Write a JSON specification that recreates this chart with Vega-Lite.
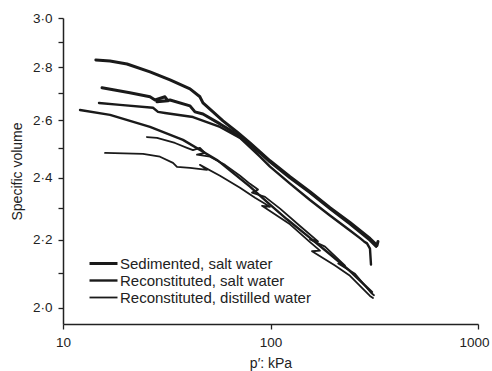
{
  "$schema": "https://vega.github.io/schema/vega-lite/v6.json",
  "width": 415,
  "height": 306,
  "autosize": {"type": "none"},
  "padding": {"left": 63, "top": 18, "right": 14, "bottom": 47},
  "background": "white",
  "config": {
    "view": {"stroke": null},
    "font": "Liberation Sans",
    "axis": {
      "grid": false,
      "domainColor": "#222",
      "domainWidth": 1.5,
      "tickColor": "#222",
      "tickWidth": 1.3,
      "tickSize": 5,
      "labelFont": "Liberation Sans",
      "labelFontSize": 13.5,
      "labelColor": "#222",
      "titleFont": "Liberation Sans",
      "titleFontSize": 14,
      "titleFontWeight": "normal",
      "titleColor": "#222"
    },
    "legend": {
      "labelFont": "Liberation Sans",
      "labelFontSize": 15,
      "labelColor": "#222"
    }
  },
  "data": {
    "values": [
      {"s": "Sedimented, salt water", "c": "A", "o": 1, "x": 14.4, "y": 2.829},
      {"s": "Sedimented, salt water", "c": "A", "o": 2, "x": 16.85, "y": 2.825},
      {"s": "Sedimented, salt water", "c": "A", "o": 3, "x": 20.35, "y": 2.813},
      {"s": "Sedimented, salt water", "c": "A", "o": 4, "x": 26.26, "y": 2.782},
      {"s": "Sedimented, salt water", "c": "A", "o": 5, "x": 32.8, "y": 2.751},
      {"s": "Sedimented, salt water", "c": "A", "o": 6, "x": 40.93, "y": 2.717},
      {"s": "Sedimented, salt water", "c": "A", "o": 7, "x": 45.7, "y": 2.687},
      {"s": "Sedimented, salt water", "c": "A", "o": 8, "x": 47.27, "y": 2.664},
      {"s": "Sedimented, salt water", "c": "A", "o": 9, "x": 52.84, "y": 2.631},
      {"s": "Sedimented, salt water", "c": "A", "o": 10, "x": 59.03, "y": 2.598},
      {"s": "Sedimented, salt water", "c": "A", "o": 11, "x": 68.94, "y": 2.558},
      {"s": "Sedimented, salt water", "c": "A", "o": 12, "x": 79.63, "y": 2.519},
      {"s": "Sedimented, salt water", "c": "A", "o": 13, "x": 89.0, "y": 2.488},
      {"s": "Sedimented, salt water", "c": "A", "o": 14, "x": 99.45, "y": 2.457},
      {"s": "Sedimented, salt water", "c": "A", "o": 15, "x": 124.2, "y": 2.403},
      {"s": "Sedimented, salt water", "c": "A", "o": 16, "x": 155.0, "y": 2.353},
      {"s": "Sedimented, salt water", "c": "A", "o": 17, "x": 193.5, "y": 2.301},
      {"s": "Sedimented, salt water", "c": "A", "o": 18, "x": 241.6, "y": 2.254},
      {"s": "Sedimented, salt water", "c": "A", "o": 19, "x": 301.6, "y": 2.204},
      {"s": "Sedimented, salt water", "c": "A", "o": 20, "x": 326.1, "y": 2.183},
      {"s": "Sedimented, salt water", "c": "A", "o": 21, "x": 329.7, "y": 2.195},

      {"s": "Sedimented, salt water", "c": "B", "o": 1, "x": 15.42, "y": 2.721},
      {"s": "Sedimented, salt water", "c": "B", "o": 2, "x": 21.0, "y": 2.702},
      {"s": "Sedimented, salt water", "c": "B", "o": 3, "x": 26.26, "y": 2.687},
      {"s": "Sedimented, salt water", "c": "B", "o": 4, "x": 27.76, "y": 2.675},
      {"s": "Sedimented, salt water", "c": "B", "o": 5, "x": 31.01, "y": 2.687},
      {"s": "Sedimented, salt water", "c": "B", "o": 6, "x": 32.06, "y": 2.672},
      {"s": "Sedimented, salt water", "c": "B", "o": 7, "x": 28.38, "y": 2.668},
      {"s": "Sedimented, salt water", "c": "B", "o": 8, "x": 32.8, "y": 2.675},
      {"s": "Sedimented, salt water", "c": "B", "o": 9, "x": 40.93, "y": 2.653},
      {"s": "Sedimented, salt water", "c": "B", "o": 10, "x": 43.26, "y": 2.631},
      {"s": "Sedimented, salt water", "c": "B", "o": 11, "x": 47.27, "y": 2.623},
      {"s": "Sedimented, salt water", "c": "B", "o": 12, "x": 57.1, "y": 2.587},
      {"s": "Sedimented, salt water", "c": "B", "o": 13, "x": 63.79, "y": 2.565},
      {"s": "Sedimented, salt water", "c": "B", "o": 14, "x": 75.38, "y": 2.527},
      {"s": "Sedimented, salt water", "c": "B", "o": 15, "x": 89.0, "y": 2.484},
      {"s": "Sedimented, salt water", "c": "B", "o": 16, "x": 99.45, "y": 2.453},
      {"s": "Sedimented, salt water", "c": "B", "o": 17, "x": 124.2, "y": 2.399},
      {"s": "Sedimented, salt water", "c": "B", "o": 18, "x": 155.0, "y": 2.35},
      {"s": "Sedimented, salt water", "c": "B", "o": 19, "x": 193.5, "y": 2.298},
      {"s": "Sedimented, salt water", "c": "B", "o": 20, "x": 241.6, "y": 2.25},
      {"s": "Sedimented, salt water", "c": "B", "o": 21, "x": 301.6, "y": 2.199},
      {"s": "Sedimented, salt water", "c": "B", "o": 22, "x": 322.5, "y": 2.18},

      {"s": "Reconstituted, salt water", "c": "C", "o": 1, "x": 14.91, "y": 2.664},
      {"s": "Reconstituted, salt water", "c": "C", "o": 2, "x": 18.83, "y": 2.657},
      {"s": "Reconstituted, salt water", "c": "C", "o": 3, "x": 27.15, "y": 2.646},
      {"s": "Reconstituted, salt water", "c": "C", "o": 4, "x": 28.7, "y": 2.631},
      {"s": "Reconstituted, salt water", "c": "C", "o": 5, "x": 31.01, "y": 2.627},
      {"s": "Reconstituted, salt water", "c": "C", "o": 6, "x": 42.31, "y": 2.612},
      {"s": "Reconstituted, salt water", "c": "C", "o": 7, "x": 57.1, "y": 2.576},
      {"s": "Reconstituted, salt water", "c": "C", "o": 8, "x": 71.3, "y": 2.537},
      {"s": "Reconstituted, salt water", "c": "C", "o": 9, "x": 89.0, "y": 2.471},
      {"s": "Reconstituted, salt water", "c": "C", "o": 10, "x": 99.45, "y": 2.437},
      {"s": "Reconstituted, salt water", "c": "C", "o": 11, "x": 124.2, "y": 2.38},
      {"s": "Reconstituted, salt water", "c": "C", "o": 12, "x": 155.0, "y": 2.326},
      {"s": "Reconstituted, salt water", "c": "C", "o": 13, "x": 193.5, "y": 2.276},
      {"s": "Reconstituted, salt water", "c": "C", "o": 14, "x": 241.6, "y": 2.229},
      {"s": "Reconstituted, salt water", "c": "C", "o": 15, "x": 270.0, "y": 2.205},
      {"s": "Reconstituted, salt water", "c": "C", "o": 16, "x": 282.2, "y": 2.195},
      {"s": "Reconstituted, salt water", "c": "C", "o": 17, "x": 291.8, "y": 2.189},
      {"s": "Reconstituted, salt water", "c": "C", "o": 18, "x": 301.6, "y": 2.173},
      {"s": "Reconstituted, salt water", "c": "C", "o": 19, "x": 305.0, "y": 2.125},

      {"s": "Reconstituted, salt water", "c": "D", "o": 1, "x": 12.08, "y": 2.638},
      {"s": "Reconstituted, salt water", "c": "D", "o": 2, "x": 16.85, "y": 2.62},
      {"s": "Reconstituted, salt water", "c": "D", "o": 3, "x": 26.26, "y": 2.576},
      {"s": "Reconstituted, salt water", "c": "D", "o": 4, "x": 37.86, "y": 2.53},
      {"s": "Reconstituted, salt water", "c": "D", "o": 5, "x": 55.24, "y": 2.46},
      {"s": "Reconstituted, salt water", "c": "D", "o": 6, "x": 65.96, "y": 2.416},
      {"s": "Reconstituted, salt water", "c": "D", "o": 7, "x": 79.63, "y": 2.37},
      {"s": "Reconstituted, salt water", "c": "D", "o": 8, "x": 99.45, "y": 2.311},
      {"s": "Reconstituted, salt water", "c": "D", "o": 9, "x": 120.1, "y": 2.264},
      {"s": "Reconstituted, salt water", "c": "D", "o": 10, "x": 155.0, "y": 2.206},
      {"s": "Reconstituted, salt water", "c": "D", "o": 11, "x": 193.5, "y": 2.156},
      {"s": "Reconstituted, salt water", "c": "D", "o": 12, "x": 241.6, "y": 2.106},
      {"s": "Reconstituted, salt water", "c": "D", "o": 13, "x": 308.4, "y": 2.045},

      {"s": "Reconstituted, distilled water", "c": "E", "o": 1, "x": 25.4, "y": 2.54},
      {"s": "Reconstituted, distilled water", "c": "E", "o": 2, "x": 28.38, "y": 2.537},
      {"s": "Reconstituted, distilled water", "c": "E", "o": 3, "x": 34.65, "y": 2.519},
      {"s": "Reconstituted, distilled water", "c": "E", "o": 4, "x": 39.59, "y": 2.502},
      {"s": "Reconstituted, distilled water", "c": "E", "o": 5, "x": 42.31, "y": 2.494},
      {"s": "Reconstituted, distilled water", "c": "E", "o": 6, "x": 45.7, "y": 2.502},
      {"s": "Reconstituted, distilled water", "c": "E", "o": 7, "x": 48.33, "y": 2.484},
      {"s": "Reconstituted, distilled water", "c": "E", "o": 8, "x": 44.23, "y": 2.478},
      {"s": "Reconstituted, distilled water", "c": "E", "o": 9, "x": 51.1, "y": 2.471},
      {"s": "Reconstituted, distilled water", "c": "E", "o": 10, "x": 60.35, "y": 2.443},
      {"s": "Reconstituted, distilled water", "c": "E", "o": 11, "x": 71.3, "y": 2.406},
      {"s": "Reconstituted, distilled water", "c": "E", "o": 12, "x": 79.63, "y": 2.379},
      {"s": "Reconstituted, distilled water", "c": "E", "o": 13, "x": 87.07, "y": 2.36},
      {"s": "Reconstituted, distilled water", "c": "E", "o": 14, "x": 81.44, "y": 2.35},
      {"s": "Reconstituted, distilled water", "c": "E", "o": 15, "x": 94.09, "y": 2.336},
      {"s": "Reconstituted, distilled water", "c": "E", "o": 16, "x": 111.2, "y": 2.298},
      {"s": "Reconstituted, distilled water", "c": "E", "o": 17, "x": 138.7, "y": 2.243},
      {"s": "Reconstituted, distilled water", "c": "E", "o": 18, "x": 169.4, "y": 2.195},
      {"s": "Reconstituted, distilled water", "c": "E", "o": 19, "x": 155.0, "y": 2.201},
      {"s": "Reconstituted, distilled water", "c": "E", "o": 20, "x": 183.1, "y": 2.179},
      {"s": "Reconstituted, distilled water", "c": "E", "o": 21, "x": 228.6, "y": 2.122},
      {"s": "Reconstituted, distilled water", "c": "E", "o": 22, "x": 212.0, "y": 2.128},
      {"s": "Reconstituted, distilled water", "c": "E", "o": 23, "x": 255.4, "y": 2.098},
      {"s": "Reconstituted, distilled water", "c": "E", "o": 24, "x": 305.0, "y": 2.043},
      {"s": "Reconstituted, distilled water", "c": "E", "o": 25, "x": 315.3, "y": 2.036},

      {"s": "Reconstituted, distilled water", "c": "F", "o": 1, "x": 15.94, "y": 2.484},
      {"s": "Reconstituted, distilled water", "c": "F", "o": 2, "x": 24.3, "y": 2.481},
      {"s": "Reconstituted, distilled water", "c": "F", "o": 3, "x": 29.34, "y": 2.471},
      {"s": "Reconstituted, distilled water", "c": "F", "o": 4, "x": 33.89, "y": 2.45},
      {"s": "Reconstituted, distilled water", "c": "F", "o": 5, "x": 35.43, "y": 2.436},
      {"s": "Reconstituted, distilled water", "c": "F", "o": 6, "x": 40.93, "y": 2.433},
      {"s": "Reconstituted, distilled water", "c": "F", "o": 7, "x": 49.43, "y": 2.426},
      {"s": "Reconstituted, distilled water", "c": "F", "o": 8, "x": 45.7, "y": 2.443},
      {"s": "Reconstituted, distilled water", "c": "F", "o": 9, "x": 57.1, "y": 2.406},
      {"s": "Reconstituted, distilled water", "c": "F", "o": 10, "x": 71.3, "y": 2.366},
      {"s": "Reconstituted, distilled water", "c": "F", "o": 11, "x": 84.21, "y": 2.333},
      {"s": "Reconstituted, distilled water", "c": "F", "o": 12, "x": 99.45, "y": 2.304},
      {"s": "Reconstituted, distilled water", "c": "F", "o": 13, "x": 91.0, "y": 2.307},
      {"s": "Reconstituted, distilled water", "c": "F", "o": 14, "x": 124.2, "y": 2.248},
      {"s": "Reconstituted, distilled water", "c": "F", "o": 15, "x": 155.0, "y": 2.193},
      {"s": "Reconstituted, distilled water", "c": "F", "o": 16, "x": 173.2, "y": 2.167},
      {"s": "Reconstituted, distilled water", "c": "F", "o": 17, "x": 158.5, "y": 2.165},
      {"s": "Reconstituted, distilled water", "c": "F", "o": 18, "x": 204.6, "y": 2.122},
      {"s": "Reconstituted, distilled water", "c": "F", "o": 19, "x": 241.6, "y": 2.092},
      {"s": "Reconstituted, distilled water", "c": "F", "o": 20, "x": 301.6, "y": 2.034},
      {"s": "Reconstituted, distilled water", "c": "F", "o": 21, "x": 311.9, "y": 2.028}
    ]
  },
  "mark": {"type": "line", "color": "#1a1a1a", "strokeJoin": "round", "strokeCap": "round"},
  "encoding": {
    "x": {
      "field": "x",
      "type": "quantitative",
      "scale": {"type": "log", "domain": [10, 1000], "nice": false},
      "axis": {
        "values": [10, 100, 1000],
        "format": "d",
        "title": "p′: kPa",
        "labelPadding": 6,
        "titlePadding": 8,
        "labelFlush": false,
        "labelOffset": {"condition": {"test": "datum.value == 1000", "value": -4}, "value": 0}
      }
    },
    "y": {
      "field": "y",
      "type": "quantitative",
      "scale": {"type": "log", "domain": [1.9556, 3.0], "nice": false, "zero": false},
      "axis": {
        "values": [2.0, 2.1, 2.2, 2.3, 2.4, 2.5, 2.6, 2.7, 2.8, 2.9, 3.0],
        "labelExpr": "round(datum.value*10)%2==0 ? replace(format(datum.value,'.1f'),'.','·') : ''",
        "title": "Specific volume",
        "labelPadding": 6,
        "titlePadding": 8,
        "labelFlush": false
      }
    },
    "detail": {"field": "c", "type": "nominal"},
    "order": {"field": "o", "type": "quantitative"},
    "strokeWidth": {
      "field": "s",
      "type": "ordinal",
      "scale": {
        "domain": ["Sedimented, salt water", "Reconstituted, salt water", "Reconstituted, distilled water"],
        "range": [3, 1.8, 1.8]
      },
      "legend": {
        "orient": "none",
        "legendX": 33,
        "legendY": 238,
        "title": null,
        "symbolType": "M-2.8,0H2.8",
        "symbolSize": 100,
        "symbolStrokeColor": "#1a1a1a",
        "labelOffset": 9,
        "rowPadding": 1,
        "padding": 0,
        "labelLimit": 400
      }
    }
  }
}
